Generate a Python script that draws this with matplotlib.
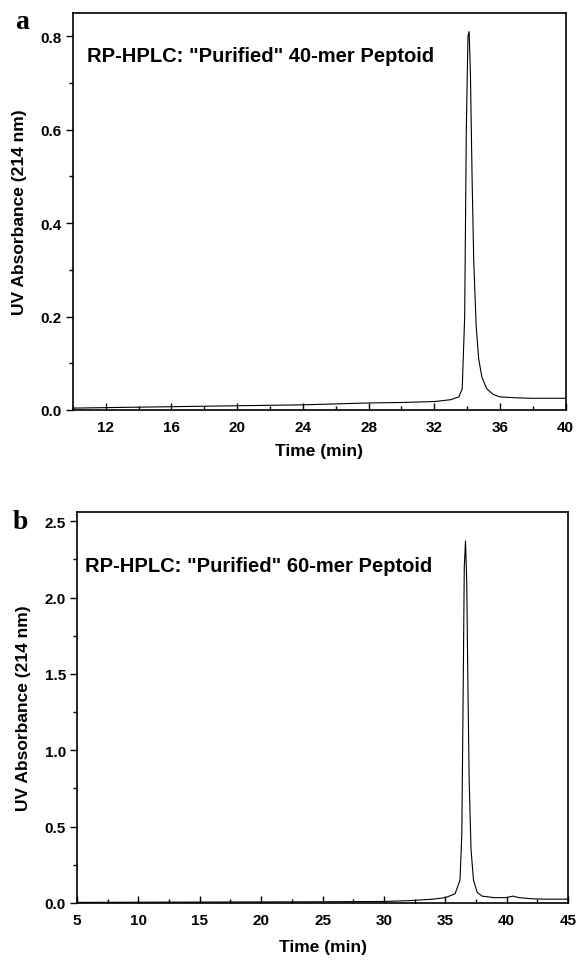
"""RP-HPLC traces of the purified 40-mer and 60-mer peptoids (two panels)."""

import matplotlib.pyplot as plt
from matplotlib.ticker import MultipleLocator

# panel a: 40-mer, trace
t_40 = [10, 12, 14, 16, 18, 20, 22, 24, 26, 28, 30, 32, 33, 33.5, 33.7,
        33.85, 33.95, 34.05, 34.12, 34.2, 34.3, 34.4, 34.55, 34.7, 34.9,
        35.2, 35.6, 36, 37, 38, 39, 40]
a_40 = [0.004, 0.005, 0.006, 0.007, 0.008, 0.009, 0.010, 0.011, 0.013, 0.015,
        0.016, 0.018, 0.022, 0.028, 0.045, 0.20, 0.60, 0.80, 0.81, 0.72,
        0.50, 0.32, 0.18, 0.11, 0.07, 0.045, 0.033, 0.028, 0.026, 0.025,
        0.025, 0.025]

# panel b: 60-mer
t_60 = [5, 10, 15, 20, 25, 30, 32, 34, 35, 35.8, 36.2, 36.35, 36.45, 36.55,
        36.65, 36.75, 36.85, 36.95, 37.1, 37.3, 37.6, 38, 39, 40, 40.5, 41,
        42, 43, 45]
a_60 = [0.004, 0.005, 0.006, 0.007, 0.008, 0.010, 0.015, 0.025, 0.035, 0.06,
        0.15, 0.45, 1.30, 2.20, 2.37, 2.10, 1.40, 0.80, 0.35, 0.15, 0.07,
        0.045, 0.035, 0.035, 0.045, 0.035, 0.028, 0.025, 0.025]

SANS = "Liberation Sans"
SERIF = "Liberation Serif"


def style_axes(ax, xmaj, xmin, ymaj, ymin):
    ax.xaxis.set_major_locator(MultipleLocator(xmaj))
    ax.xaxis.set_minor_locator(MultipleLocator(xmin))
    ax.yaxis.set_major_locator(MultipleLocator(ymaj))
    ax.yaxis.set_minor_locator(MultipleLocator(ymin))
    ax.tick_params(axis="x", which="both", direction="in", width=1.0, pad=7)
    ax.tick_params(axis="y", which="both", direction="out", width=1.0, pad=3)
    ax.tick_params(which="major", length=5)
    ax.tick_params(which="minor", length=3)
    for lab in ax.get_xticklabels() + ax.get_yticklabels():
        lab.set_fontfamily(SANS)
        lab.set_fontweight("bold")
        lab.set_fontsize(11)
    for sp in ax.spines.values():
        sp.set_linewidth(1.2)
    ax.set_xlabel("Time (min)", fontfamily=SANS, fontweight="bold",
                  fontsize=12.5)
    ax.set_ylabel("UV Absorbance (214 nm)", fontfamily=SANS,
                  fontweight="bold", fontsize=12.5)


fig = plt.figure(figsize=(5.79, 9.62), dpi=100)
ax1 = fig.add_axes([0.126, 0.5728, 0.851, 0.4127])
ax2 = fig.add_axes([0.133, 0.0603, 0.848, 0.4064])

ax1.plot(t_40, a_40, color="black", lw=0.8)
ax1.set_xlim(10, 40)
ax1.set_ylim(0, 0.85)
style_axes(ax1, 4, 2, 0.2, 0.1)
ax1.set_xticks([12, 16, 20, 24, 28, 32, 36, 40])
ax1.xaxis.set_label_coords(0.5, -0.083)
ax1.yaxis.set_label_coords(-0.093, 0.5)
ax1.text(0.028, 0.892, 'RP-HPLC: "Purified" 40-mer Peptoid',
         transform=ax1.transAxes, fontfamily=SANS, fontweight="bold",
         fontsize=14.5, va="center")

ax2.plot(t_60, a_60, color="black", lw=0.8)
ax2.set_xlim(5, 45)
ax2.set_ylim(0, 2.56)
style_axes(ax2, 5, 2.5, 0.5, 0.25)
ax2.xaxis.set_label_coords(0.5, -0.092)
ax2.yaxis.set_label_coords(-0.094, 0.5)
ax2.text(0.016, 0.862, 'RP-HPLC: "Purified" 60-mer Peptoid',
         transform=ax2.transAxes, fontfamily=SANS, fontweight="bold",
         fontsize=14.5, va="center")

fig.text(0.026, 0.977, "a", fontfamily=SERIF, fontweight="bold",
         fontsize=20, va="center")
fig.text(0.022, 0.457, "b", fontfamily=SERIF, fontweight="bold",
         fontsize=20, va="center")

fig.savefig("out.png", dpi=100)
